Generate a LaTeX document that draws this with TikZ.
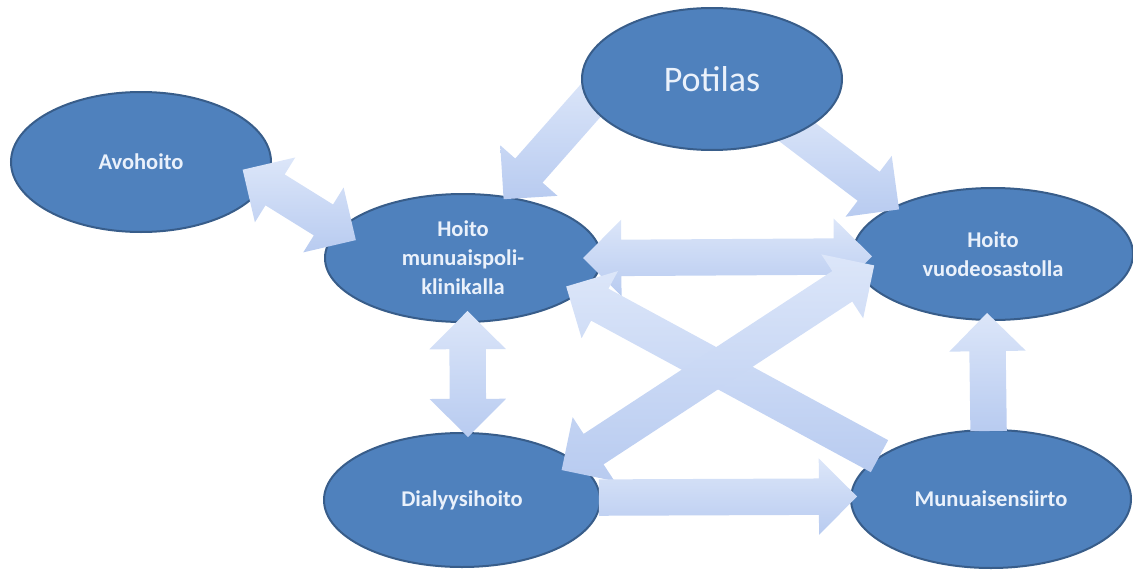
\documentclass[tikz,border=0pt]{standalone}
\usepackage{fontspec}
\setmainfont{Carlito}
\usetikzlibrary{shapes.geometric,shapes.arrows,calc}
\pgfdeclarelayer{front}
\pgfsetlayers{main,front}
\definecolor{ellfill}{HTML}{4F81BD}
\definecolor{elldraw}{HTML}{385D8A}
\definecolor{txtcol}{HTML}{EAF1FB}
\definecolor{arrA}{HTML}{DCE6F9}
\definecolor{arrB}{HTML}{B8CBF0}
\tikzset{
  ell/.style={ellipse, fill=ellfill, draw=elldraw, line width=2pt, inner sep=0pt,
    text=txtcol, font=\bfseries\fontsize{22.5}{29}\selectfont, align=center},
  barrowbase/.style={inner xsep=0pt, inner ysep=18pt, outer sep=0pt, minimum width=76pt,
    top color=arrA, bottom color=arrB, draw=none},
  sarrow/.style={barrowbase, single arrow, single arrow head extend=20pt,
    single arrow tip angle=90, anchor=tail},
  darrow/.style={barrowbase, double arrow, double arrow head extend=20pt,
    double arrow tip angle=90, anchor=center},
}
% block arrows: #1 start, #2 extension at start, #3 end, #4 extension at end
\newcommand\singleblock[4]{%
  \path let \p1=($(#1)!-#2!(#3)$), \p2=($(#3)!-#4!(#1)$),
    \n1={atan2(\y2-\y1,\x2-\x1)}, \n2={veclen(\x2-\x1,\y2-\y1)} in
    node[sarrow, rotate=\n1, minimum height=\n2] at (\p1) {};}
\newcommand\doubleblock[4]{%
  \path let \p1=($(#1)!-#2!(#3)$), \p2=($(#3)!-#4!(#1)$),
    \n1={atan2(\y2-\y1,\x2-\x1)}, \n2={veclen(\x2-\x1,\y2-\y1)} in
    node[darrow, rotate=\n1, minimum height=\n2] at ($(\p1)!0.5!(\p2)$) {};}
\begin{document}
\begin{tikzpicture}[x=1pt,y=-1pt]
\useasboundingbox (0,0) rectangle (1133,570);
\node[ell, minimum width=260pt, minimum height=140pt] (avo) at (141,162) {Avohoito};
\begin{pgfonlayer}{front}
\node[ell, minimum width=260pt, minimum height=142pt, font=\fontsize{36}{40}\selectfont] (pot) at (712,79) {Potilas};
\end{pgfonlayer}
\node[ell, minimum width=276pt, minimum height=128pt] (poli) at (463,258) {Hoito\\munuaispoli-\\klinikalla};
\node[ell, minimum width=280pt, minimum height=132pt] (vuode) at (993,254) {Hoito\\vuodeosastolla};
\node[ell, minimum width=276pt, minimum height=134pt] (dia) at (462,500) {Dialyysihoito};
\node[ell, minimum width=280pt, minimum height=138pt] (mun) at (991,499) {Munuaisensiirto};

\doubleblock{avo.-10.9}{27pt}{poli.167.1}{20.6pt}
\singleblock{pot.191.2}{20pt}{poli.55.6}{4pt}
\singleblock{pot.-32.3}{20pt}{vuode.154.1}{5.6pt}
\doubleblock{poli.0.8}{18.9pt}{vuode.-179.2}{19.9pt}
\singleblock{mun.159.2}{0pt}{poli.-17}{15pt}
\doubleblock{dia.19.2}{16.8pt}{vuode.189.4}{17.9pt}
\doubleblock{poli.-86.4}{12pt}{dia.85.7}{5pt}
\singleblock{dia.1.7}{2pt}{mun.179.6}{7pt}
\singleblock{mun.92.5}{2pt}{vuode.265.7}{8pt}
\end{tikzpicture}
\end{document}
